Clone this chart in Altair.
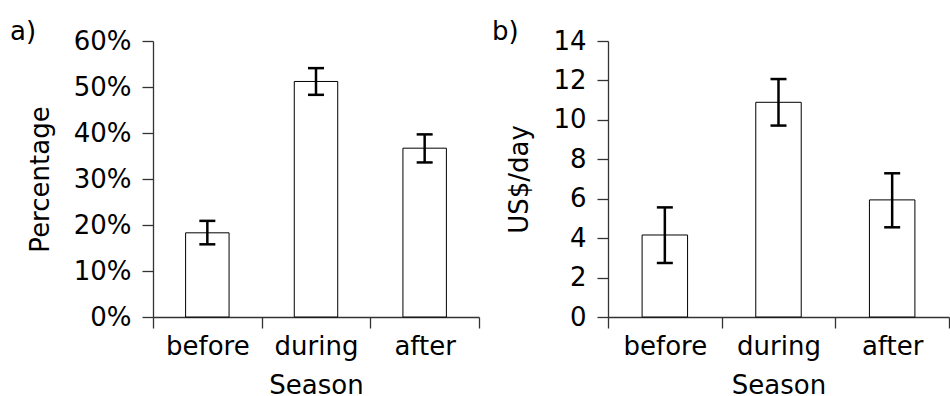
import altair as alt
import pandas as pd

seasons = ["before", "during", "after"]
pct_mean = [0.183, 0.512, 0.367]
pct_low = [0.158, 0.483, 0.336]
pct_high = [0.209, 0.541, 0.397]
usd_mean = [4.16, 10.89, 5.94]
usd_low = [2.74, 9.71, 4.55]
usd_high = [5.56, 12.07, 7.29]

FONT = "DejaVu Sans"
FS = 26
AX = "#333333"


def panel(mean, low, high, ytitle, fmt, yvals, letter, width, letter_dx):
    df = pd.DataFrame({"Season": seasons, "mean": mean, "low": low, "high": high})
    base = alt.Chart(df)
    xenc = alt.X(
        "Season:N", sort=seasons, title="Season",
        scale=alt.Scale(paddingInner=0, paddingOuter=0),
        axis=alt.Axis(tickBand="extent", labelAngle=0),
    )
    yenc = alt.Y(
        "mean:Q", title=ytitle,
        scale=alt.Scale(domain=[yvals[0], yvals[-1]], nice=False, zero=True),
        axis=alt.Axis(values=yvals, tickCount=len(yvals) + 2, format=fmt),
    )
    bars = base.mark_bar(width={"band": 0.4}, fill="white", stroke="black",
                         strokeWidth=1).encode(x=xenc, y=yenc)
    rule = base.mark_rule(strokeWidth=2.5, color="black").encode(
        x=alt.X("Season:N", sort=seasons), y="low:Q", y2="high:Q")
    cap_lo = base.mark_tick(size=16, thickness=2.5, color="black", opacity=1).encode(
        x=alt.X("Season:N", sort=seasons), y="low:Q")
    cap_hi = base.mark_tick(size=16, thickness=2.5, color="black", opacity=1).encode(
        x=alt.X("Season:N", sort=seasons), y="high:Q")
    lab = alt.Chart(pd.DataFrame({"t": [letter]})).mark_text(
        font=FONT, fontSize=26, align="left", baseline="alphabetic", color="black"
    ).encode(text="t:N", x=alt.value(letter_dx), y=alt.value(-1))
    return alt.layer(bars, rule, cap_lo, cap_hi, lab).properties(width=width, height=276)


a = panel(pct_mean, pct_low, pct_high, "Percentage", ".0%",
          [0, 0.1, 0.2, 0.3, 0.4, 0.5, 0.6], "a)", 326, -143)
b = panel(usd_mean, usd_low, usd_high, "US$/day", "d",
          [0, 2, 4, 6, 8, 10, 12, 14], "b)", 341, -116)

chart = alt.hconcat(a, b, spacing=12).resolve_scale(y="independent").properties(
    padding={"left": 10, "top": 19, "right": 0, "bottom": 0}
).configure_view(stroke=None).configure_axis(
    labelFont=FONT, titleFont=FONT, labelFontSize=FS, titleFontSize=FS,
    labelColor="black", titleColor="black", titleFontWeight="normal",
    domainColor=AX, tickColor=AX, domainWidth=1.3, tickWidth=1.3,
    tickSize=11, grid=False, labelFlush=False, labelOverlap=False,
).configure_axisY(titlePadding=20, labelPadding=11).configure_axisX(
    titlePadding=13, labelPadding=5)

chart.save("out.html", embed_options={"renderer": "svg", "actions": False})
